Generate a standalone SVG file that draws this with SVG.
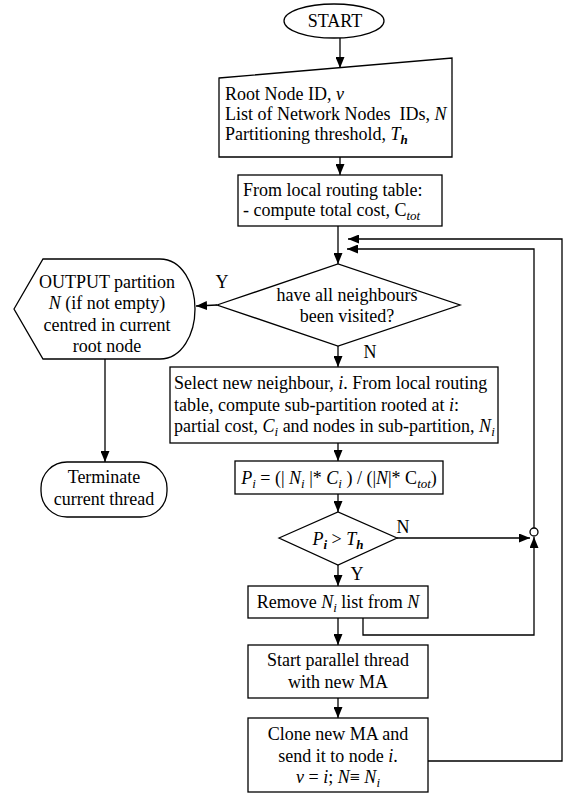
<svg xmlns="http://www.w3.org/2000/svg" width="564" height="794" viewBox="0 0 564 794">
<defs>
<marker id="ah" markerWidth="11" markerHeight="9" refX="11" refY="4.5" orient="auto" markerUnits="userSpaceOnUse"><path d="M0,0 L11,4.5 L0,9 Z" fill="#000"/></marker>
</defs>
<style>
.s{fill:#fff;stroke:#000;stroke-width:1.3}
.t{font-family:"Liberation Serif","Times New Roman",serif;font-size:18px;fill:#000}
.c{text-anchor:middle}
.i{font-style:italic}
.sub{font-size:13px}
.b{font-weight:bold}
.ln{fill:none;stroke:#000;stroke-width:1.3}
</style>
<rect width="564" height="794" fill="#fff"/>
<g id="connectors">
<line class="ln" x1="340" y1="38" x2="340" y2="68" marker-end="url(#ah)"/>
<line class="ln" x1="340" y1="157" x2="340" y2="175" marker-end="url(#ah)"/>
<line class="ln" x1="338" y1="226" x2="338" y2="264" marker-end="url(#ah)"/>
<line class="ln" x1="217" y1="305" x2="196" y2="306" marker-end="url(#ah)"/>
<line class="ln" x1="338" y1="346" x2="338" y2="367" marker-end="url(#ah)"/>
<line class="ln" x1="105" y1="359" x2="105" y2="462" marker-end="url(#ah)"/>
<line class="ln" x1="338" y1="443" x2="338" y2="461" marker-end="url(#ah)"/>
<line class="ln" x1="338" y1="494" x2="338" y2="512" marker-end="url(#ah)"/>
<line class="ln" x1="338" y1="565" x2="338" y2="586" marker-end="url(#ah)"/>
<line class="ln" x1="397" y1="538" x2="530" y2="538" marker-end="url(#ah)"/>
<line class="ln" x1="338" y1="618" x2="338" y2="645" marker-end="url(#ah)"/>
<line class="ln" x1="338" y1="698" x2="338" y2="718" marker-end="url(#ah)"/>
<polyline class="ln" points="363,618 363,635 534,635 534,537" marker-end="url(#ah)"/>
<polyline class="ln" points="534,528 534,249 347,249" marker-end="url(#ah)"/>
<polyline class="ln" points="428,761 562,761 562,239 348,239" marker-end="url(#ah)"/>
<text class="t c" x="222" y="288">Y</text>
<text class="t c" x="370" y="358">N</text>
<text class="t c" x="403" y="533">N</text>
<text class="t c" x="357" y="580">Y</text>
</g>
<g id="start">
<ellipse class="s" cx="334" cy="21" rx="50" ry="17"/>
<text class="t c" x="335" y="27">START</text>
</g>
<g id="input">
<polygon class="s" points="219,78 452,58 452,157 219,157"/>
<text class="t" x="225" y="100">Root Node ID, <tspan class="i">v</tspan></text>
<text class="t" x="225" y="120">List of Network Nodes&#160; IDs, <tspan class="i">N</tspan></text>
<text class="t" x="225" y="140">Partitioning threshold, <tspan class="i">T</tspan><tspan class="i sub b" dy="4">h</tspan></text>
</g>
<g id="cost">
<rect class="s" x="238" y="175" width="204" height="51"/>
<text class="t" x="243" y="196">From local routing table:</text>
<text class="t" x="243" y="216">- compute total cost, C<tspan class="i sub" dy="4">tot</tspan></text>
</g>
<g id="visited">
<polygon class="s" points="217,305 338,264 460,305 338,346"/>
<text class="t c" x="347" y="301">have all neighbours</text>
<text class="t c" x="347" y="322">been visited?</text>
</g>
<g id="output">
<path class="s" d="M14,309 L43,259 L160,259 C182,259 195,284 195,309 C195,334 182,359 160,359 L43,359 Z"/>
<text class="t c" x="107" y="288">OUTPUT partition</text>
<text class="t c" x="107" y="309"><tspan class="i">N</tspan> (if not empty)</text>
<text class="t c" x="107" y="331">centred in current</text>
<text class="t c" x="107" y="352">root node</text>
</g>
<g id="terminate">
<rect class="s" x="41" y="462" width="126" height="55" rx="26" ry="26"/>
<text class="t c" x="104" y="483">Terminate</text>
<text class="t c" x="104" y="505">current thread</text>
</g>
<g id="select">
<rect class="s" x="170" y="367" width="328" height="76"/>
<text class="t" x="174" y="389">Select new neighbour, <tspan class="i">i</tspan>. From local routing</text>
<text class="t" x="174" y="411">table, compute sub-partition rooted at <tspan class="i">i</tspan>:</text>
<text class="t" x="174" y="432">partial cost, <tspan class="i">C</tspan><tspan class="i sub" dy="4">i</tspan><tspan dy="-4"> and nodes in sub-partition, </tspan><tspan class="i">N</tspan><tspan class="i sub" dy="4">i</tspan></text>
</g>
<g id="pcalc">
<rect class="s" x="235" y="461" width="208" height="33"/>
<text class="t c" x="339" y="484"><tspan class="i">P</tspan><tspan class="i sub" dy="4">i</tspan><tspan dy="-4"> = (| </tspan><tspan class="i">N</tspan><tspan class="i sub" dy="4">i</tspan><tspan dy="-4"> |* </tspan><tspan class="i">C</tspan><tspan class="i sub" dy="4">i</tspan><tspan dy="-4"> ) / (|</tspan><tspan class="i">N</tspan>|* C<tspan class="i sub" dy="4">tot</tspan><tspan dy="-4">)</tspan></text>
</g>
<g id="threshold">
<polygon class="s" points="279,538 338,512 397,538 338,565"/>
<text class="t c" x="338" y="545"><tspan class="i">P</tspan><tspan class="i sub b" dy="4">i</tspan><tspan dy="-4"> &gt; </tspan><tspan class="i">T</tspan><tspan class="i sub b" dy="4">h</tspan></text>
</g>
<g id="junction">
<circle class="s" cx="534" cy="532" r="4"/>
</g>
<g id="remove">
<rect class="s" x="248" y="586" width="180" height="32"/>
<text class="t c" x="338" y="608">Remove <tspan class="i">N</tspan><tspan class="i sub" dy="4">i</tspan><tspan dy="-4"> list from </tspan><tspan class="i">N</tspan></text>
</g>
<g id="start-thread">
<rect class="s" x="248" y="645" width="180" height="53"/>
<text class="t c" x="338" y="666">Start parallel thread</text>
<text class="t c" x="338" y="688">with new MA</text>
</g>
<g id="clone">
<rect class="s" x="248" y="718" width="180" height="74"/>
<text class="t c" x="338" y="740">Clone new MA and</text>
<text class="t c" x="338" y="762">send it to node <tspan class="i">i</tspan>.</text>
<text class="t c" x="338" y="783"><tspan class="i">v</tspan> = <tspan class="i">i</tspan>; <tspan class="i">N</tspan>≡ <tspan class="i">N</tspan><tspan class="i sub" dy="4">i</tspan></text>
</g>
</svg>
